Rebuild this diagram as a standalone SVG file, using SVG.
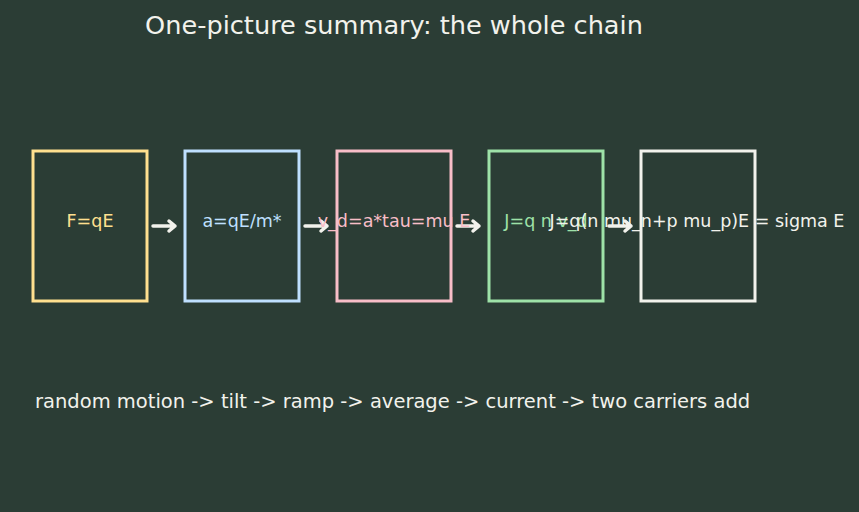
<svg xmlns="http://www.w3.org/2000/svg" width="859" height="512" viewBox="0 0 859 512">
<style>
text{font-family:"DejaVu Sans","Liberation Sans",sans-serif}
.box{fill:none;stroke-width:3}
.lbl{font-size:17.5px;text-anchor:middle}
.arr{stroke:#f2f2ec;stroke-width:3.5;fill:none;stroke-linecap:round;stroke-linejoin:round}
</style>
<rect width="859" height="512" fill="#2b3d35"/>
<text x="394" y="34" font-size="25.6" text-anchor="middle" fill="#f2f2ec">One-picture summary: the whole chain</text>
<g id="connectors">
<path class="arr" d="M153,226 H175 M169,221 L175,226 L169,231"/>
<path class="arr" d="M305,226 H327 M321,221 L327,226 L321,231"/>
<path class="arr" d="M457,226 H479 M473,221 L479,226 L473,231"/>
<path class="arr" d="M609,226 H631 M625,221 L631,226 L625,231"/>
</g>
<g id="n1"><rect class="box" x="33" y="151" width="114" height="150" stroke="#ffe08f"/><text class="lbl" x="90" y="227" fill="#ffe08f">F=qE</text></g>
<g id="n2"><rect class="box" x="185" y="151" width="114" height="150" stroke="#bfe0ff"/><text class="lbl" x="242" y="227" fill="#bfe0ff">a=qE/m*</text></g>
<g id="n3"><rect class="box" x="337" y="151" width="114" height="150" stroke="#f8bec8"/><text class="lbl" x="394" y="227" fill="#f8bec8">v_d=a*tau=mu E</text></g>
<g id="n4"><rect class="box" x="489" y="151" width="114" height="150" stroke="#9ee2a8"/><text class="lbl" x="546" y="227" fill="#9ee2a8">J=q n v_d</text></g>
<g id="n5"><rect class="box" x="641" y="151" width="114" height="150" stroke="#f2f2ec"/><text class="lbl" x="697" y="227" fill="#f2f2ec">J=q(n mu_n+p mu_p)E = sigma E</text></g>
<text x="35" y="408" font-size="19.5" fill="#f2f2ec">random motion -&gt; tilt -&gt; ramp -&gt; average -&gt; current -&gt; two carriers add</text>
</svg>
